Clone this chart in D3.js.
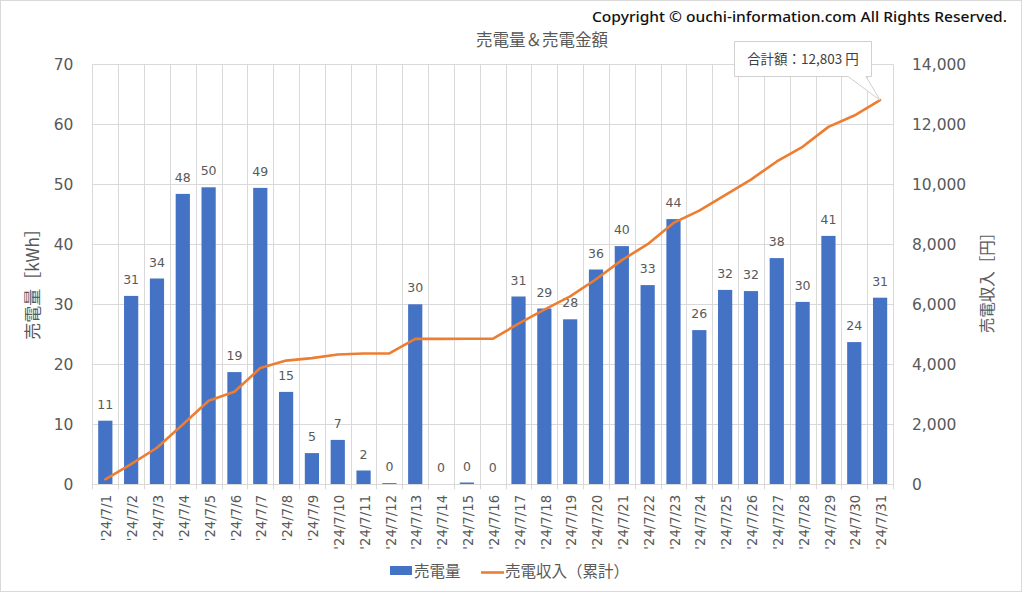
<!DOCTYPE html>
<html><head><meta charset="utf-8">
<script src="https://cdn.jsdelivr.net/npm/d3@7"></script>
<style>
body{margin:0;background:#fff;}
svg{display:block;}
</style></head>
<body>
<svg id="chart" width="1024" height="594"></svg>
<script>
const categories = ["'24/7/1","'24/7/2","'24/7/3","'24/7/4","'24/7/5","'24/7/6","'24/7/7","'24/7/8","'24/7/9","'24/7/10","'24/7/11","'24/7/12","'24/7/13","'24/7/14","'24/7/15","'24/7/16","'24/7/17","'24/7/18","'24/7/19","'24/7/20","'24/7/21","'24/7/22","'24/7/23","'24/7/24","'24/7/25","'24/7/26","'24/7/27","'24/7/28","'24/7/29","'24/7/30","'24/7/31"];
const soldKWh = [10.6,31.4,34.3,48.4,49.5,18.7,49.4,15.4,5.2,7.4,2.3,0.2,30.0,0,0.3,0,31.3,29.3,27.5,35.8,39.7,33.2,44.2,25.7,32.4,32.2,37.7,30.4,41.4,23.7,31.1];
const cumulativeYen = [168,672,1219,1994,2787,3086,3877,4123,4206,4325,4362,4365,4846,4846,4851,4851,5354,5824,6262,6835,7472,8003,8712,9123,9642,10157,10762,11251,11914,12293,12803];
const leftTicks = [0,10,20,30,40,50,60,70];
const rightTicks = [0,2000,4000,6000,8000,10000,12000,14000];
const titleText = "売電量＆売電金額";
const copyrightText = "Copyright © ouchi-information.com All Rights Reserved.";
const leftAxisTitle = "売電量［kWh］";
const rightAxisTitle = "売電収入［円］";
const seriesNames = ["売電量","売電収入（累計）"];
const totalLabel = "合計額：12,803 円";

const svg = d3.select("#chart");
const W = 1024, H = 594;
const plot = {left: 92.4, right: 893, top: 64.3, bottom: 484.3};
const jp = "'Noto Sans CJK JP','Noto Sans',sans-serif";
const num = "'DejaVu Sans',Verdana,sans-serif";
const gridColor = "#d9d9d9";
const textColor = "#595959";
const barColor = "#4472C4";
const lineColor = "#ED7D31";

// chart border
svg.append("rect").attr("x",0.5).attr("y",0.5).attr("width",W-3).attr("height",H-3)
  .attr("fill","#fff").attr("stroke","#d9d9d9").attr("stroke-width",1);

const x = d3.scaleBand().domain(categories).range([plot.left, plot.right])
  .paddingInner(0.45).paddingOuter(0.225);
const yL = d3.scaleLinear().domain([0,70]).range([plot.bottom, plot.top]);
const yR = d3.scaleLinear().domain([0,14000]).range([plot.bottom, plot.top]);
const step = x.step();

// horizontal gridlines
svg.append("g").selectAll("line").data(leftTicks).join("line")
  .attr("x1", plot.left).attr("x2", plot.right)
  .attr("y1", d => Math.round(yL(d))+0.5).attr("y2", d => Math.round(yL(d))+0.5)
  .attr("stroke", gridColor).attr("stroke-width",1);

// vertical gridlines between categories (extend below axis as ticks)
const boundaries = d3.range(categories.length+1).map(i => plot.left + i*step);
svg.append("g").selectAll("line").data(boundaries).join("line")
  .attr("x1", d => Math.round(d)+0.5).attr("x2", d => Math.round(d)+0.5)
  .attr("y1", plot.top).attr("y2", plot.bottom+5)
  .attr("stroke", gridColor).attr("stroke-width",1);

// left axis labels
const gL = svg.append("g").attr("transform",`translate(${plot.left},0)`)
  .call(d3.axisLeft(yL).tickValues(leftTicks).tickSize(0).tickPadding(19));
gL.select(".domain").remove();
gL.selectAll("text").attr("font-family",num).attr("font-size","15.5px").attr("fill",textColor);

// right axis labels
const gR = svg.append("g").attr("transform",`translate(${plot.right},0)`)
  .call(d3.axisRight(yR).tickValues(rightTicks).tickSize(0).tickPadding(19).tickFormat(d3.format(",")));
gR.select(".domain").remove();
gR.selectAll("text").attr("font-family",num).attr("font-size","15.5px").attr("fill",textColor);

// bars
svg.append("g").selectAll("rect").data(soldKWh).join("rect")
  .attr("x",(d,i)=>x(categories[i])).attr("width",x.bandwidth())
  .attr("y",d=>yL(d)).attr("height",d=>yL(0)-yL(d))
  .attr("fill",barColor);

// bar data labels
svg.append("g").selectAll("text").data(soldKWh).join("text")
  .attr("x",(d,i)=>x(categories[i])+x.bandwidth()/2)
  .attr("y",d=>yL(d)-12)
  .attr("text-anchor","middle")
  .attr("font-family",num).attr("font-size","12.5px").attr("fill",textColor)
  .text(d=>Math.round(d));

// axis baseline
svg.append("line").attr("x1",plot.left).attr("x2",plot.right)
  .attr("y1",Math.round(plot.bottom)+0.5).attr("y2",Math.round(plot.bottom)+0.5)
  .attr("stroke",gridColor);

// line
const line = d3.line()
  .x((d,i)=>x(categories[i])+x.bandwidth()/2)
  .y(d=>yR(d));
svg.append("path").datum(cumulativeYen).attr("d",line)
  .attr("fill","none").attr("stroke",lineColor).attr("stroke-width",2.6)
  .attr("stroke-linejoin","round").attr("stroke-linecap","round");

// x labels
svg.append("g").selectAll("text").data(categories).join("text")
  .attr("transform",(d)=>`translate(${x(d)+x.bandwidth()/2+1.5},${plot.bottom+10.5}) rotate(-90)`)
  .attr("dy","0.35em")
  .attr("text-anchor","end")
  .attr("font-family",num).attr("font-size","13.3px").attr("fill",textColor)
  .text(d=>d);

// axis titles
svg.append("text").attr("transform",`translate(33,280) rotate(-90)`)
  .attr("text-anchor","middle").attr("dy","0.35em")
  .attr("font-family",jp).attr("font-size","17px").attr("fill",textColor)
  .text(leftAxisTitle);
svg.append("text").attr("transform",`translate(988,279) rotate(-90)`)
  .attr("text-anchor","middle").attr("dy","0.35em")
  .attr("font-family",jp).attr("font-size","15.5px").attr("fill",textColor)
  .text(rightAxisTitle);

// title
svg.append("text").attr("x",542).attr("y",40).attr("dy","0.35em")
  .attr("text-anchor","middle").attr("font-family",jp).attr("font-size","16.5px").attr("fill",textColor)
  .text(titleText);

// copyright
svg.append("text").attr("x",1007).attr("y",17).attr("dy","0.35em")
  .attr("text-anchor","end").attr("font-family","'Noto Sans',sans-serif").attr("font-size","15px")
  .attr("font-weight",500).attr("fill","#111")
  .attr("textLength",415).attr("lengthAdjust","spacingAndGlyphs")
  .text(copyrightText);

// callout for total
const lastX = x(categories[categories.length-1])+x.bandwidth()/2;
const lastY = yR(cumulativeYen[cumulativeYen.length-1]);
const box = {x1:734.5, x2:871.5, y1:41.5, y2:76.5};
const callout = svg.append("g");
callout.append("path")
  .attr("d",`M${box.x1},${box.y1} L${box.x2},${box.y1} L${box.x2},${box.y2} L866,${box.y2} L${lastX},${lastY} L848,${box.y2} L${box.x1},${box.y2} Z`)
  .attr("fill","#fff").attr("stroke","#d0d0d0").attr("stroke-width",1);
callout.append("text").attr("x",(box.x1+box.x2)/2).attr("y",(box.y1+box.y2)/2).attr("dy","0.35em")
  .attr("text-anchor","middle").attr("font-family",jp).attr("font-size","13.5px").attr("fill","#404040")
  .text(totalLabel);

// legend
const lg = svg.append("g");
lg.append("rect").attr("x",390).attr("y",566).attr("width",22).attr("height",9).attr("fill",barColor);
lg.append("text").attr("x",414).attr("y",571.5).attr("dy","0.35em")
  .attr("font-family",jp).attr("font-size","15.5px").attr("fill",textColor).text(seriesNames[0]);
lg.append("line").attr("x1",481).attr("x2",504).attr("y1",572.5).attr("y2",572.5)
  .attr("stroke",lineColor).attr("stroke-width",2.6);
lg.append("text").attr("x",505).attr("y",571.5).attr("dy","0.35em")
  .attr("font-family",jp).attr("font-size","15.5px").attr("fill",textColor).text(seriesNames[1]);
</script>
</body></html>
